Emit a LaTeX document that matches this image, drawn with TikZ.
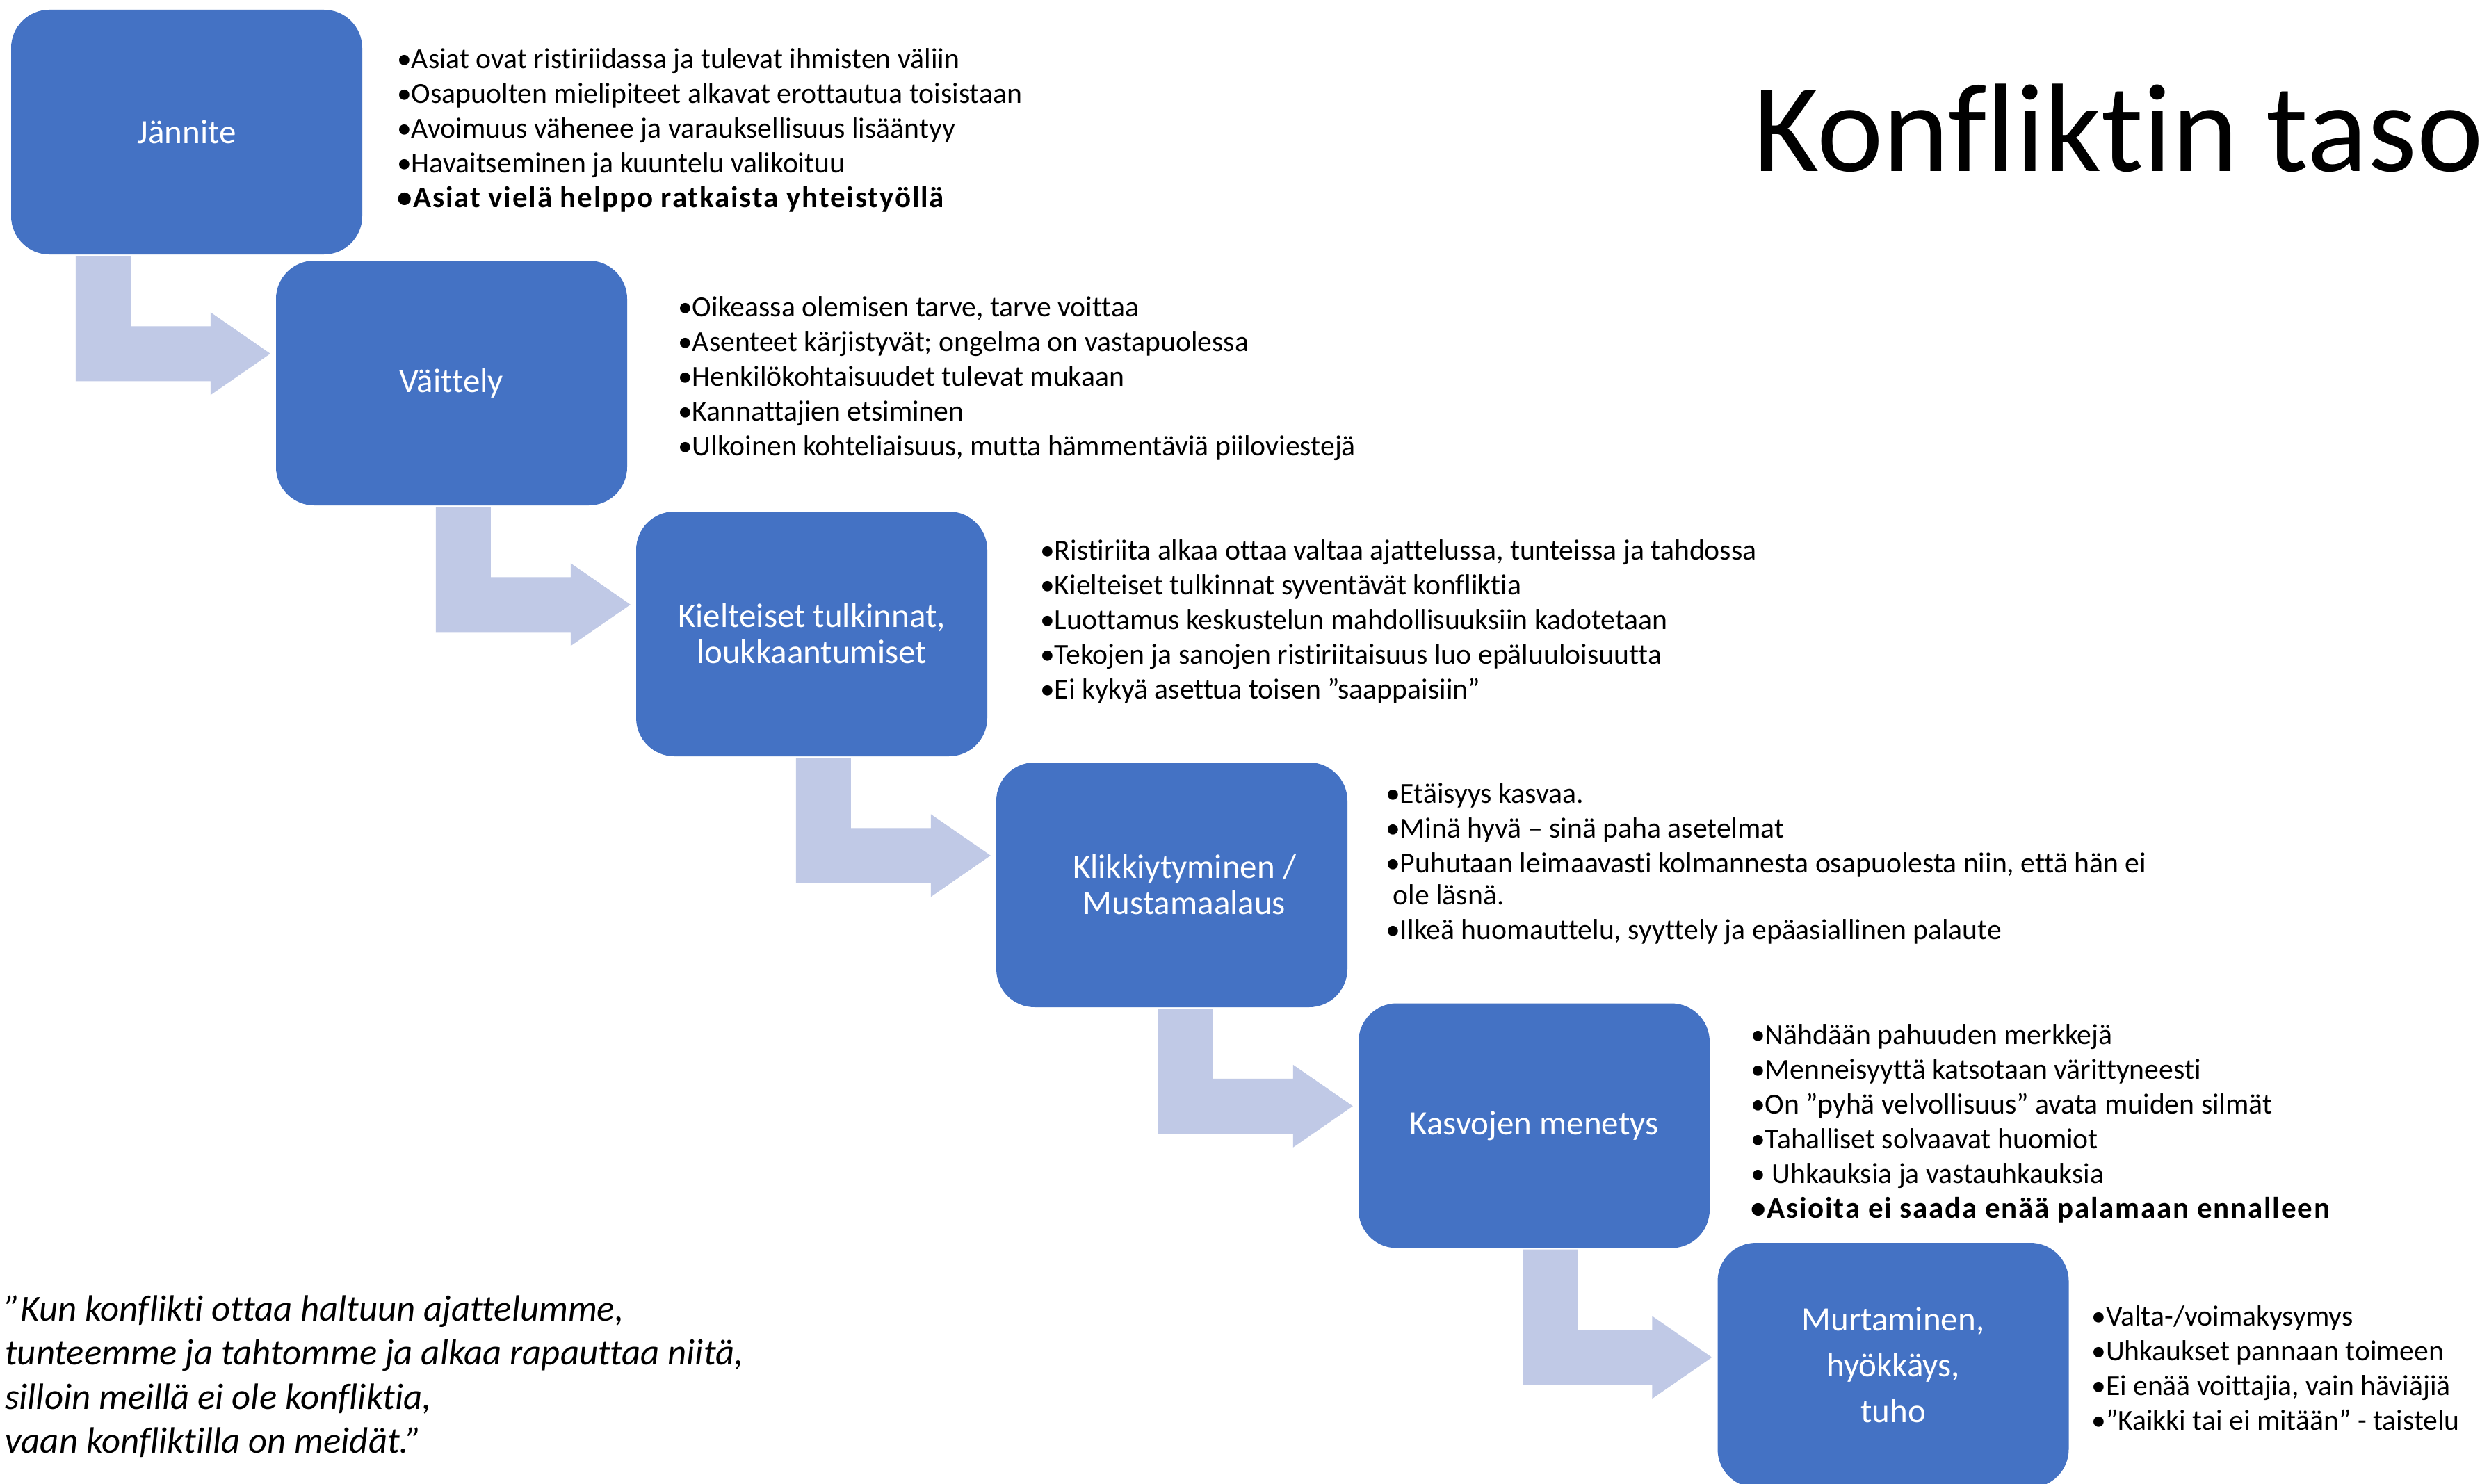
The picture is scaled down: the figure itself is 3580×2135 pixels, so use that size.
\documentclass[tikz,border=0pt]{standalone}
\usepackage{fontspec}
\setmainfont{Carlito}[Ligatures=NoCommon]
\usetikzlibrary{calc}
\definecolor{boxblue}{HTML}{4472C4}
\definecolor{arrblue}{RGB}{192,201,230}
\tikzset{
  stepbox/.style={fill=boxblue, rounded corners=55pt, minimum width=505pt, minimum height=352pt,
    inner sep=0pt, text=white, align=center, font=\fontsize{49}{52}\selectfont},
  bultext/.style={anchor=base west, inner sep=0pt, font=\fontsize{41.7}{50}\selectfont},
  quotetext/.style={anchor=base west, inner sep=0pt, font=\fontsize{52.8}{63}\selectfont\itshape},
  arrowshape/.style={fill=arrblue},
}
\newcommand\strongline{\fontsize{43}{50}\selectfont\bfseries\addfontfeature{LetterSpace=4.2}}
% #1 source box, #2 target box, #3 bar offset left of target, #4 tip depth below target top, #5 tip gap
\newcommand\bentarrow[5]{%
  \coordinate (T0) at (#2.north west);
  \coordinate (Q) at ($(T0)+(-#3,0)$);
  \coordinate (Top) at ($(Q |- #1.south)+(0,2)$);
  \fill[arrowshape] (Top) -- ++(79,0) -- ($(Q)+(79,#4-39.5)$) -- ($(T0)+(-#5-86,#4-39.5)$)
    -- ($(T0)+(-#5-86,#4-59.5)$) -- ($(T0)+(-#5,#4)$) -- ($(T0)+(-#5-86,#4+59.5)$)
    -- ($(T0)+(-#5-86,#4+39.5)$) -- ($(Q)+(0,#4+39.5)$) -- cycle;
}
\newcommand\bulletblock[4]{%
  \foreach \t [count=\i] in {#4} \node[bultext] (#1-\i) at (#2, {#3+50*(\i-1)}) {\t};
}
\begin{document}
\begin{tikzpicture}[x=1pt,y=-1pt]
\useasboundingbox (0,0) rectangle (3580,2135);
\clip (0,0) rectangle (3580,2135);
\fill[white] (0,0) rectangle (3580,2135);

% step boxes
\node[stepbox] (b1) at (268.5,190) {Jännite};
\node[stepbox] (b2) at (649.5,551) {Väittely};
\node[stepbox] (b3) at (1167.5,912) {Kielteiset tulkinnat,\\loukkaantumiset};
\node[stepbox] (b4) at (1685.5,1273) {\hspace*{36pt}Klikkiytyminen /\\\hspace*{36pt}Mustamaalaus};
\node[stepbox] (b5) at (2206.5,1619.5) {Kasvojen menetys};
\node[stepbox, font=\fontsize{49}{66}\selectfont] (b6) at (2723,1964) {Murtaminen,\\hyökkäys,\\tuho};

% bent arrows
\bentarrow{b1}{b2}{288}{134}{8}
\bentarrow{b2}{b3}{288}{134}{8}
\bentarrow{b3}{b4}{288}{134}{8}
\bentarrow{b4}{b5}{288}{148}{8}
\bentarrow{b5}{b6}{280}{165}{8}

% title
\node[anchor=base west, inner sep=0pt, font=\fontsize{181}{200}\selectfont] (title) at (2522,247) {Konfliktin taso};

% bullet texts
\bulletblock{t1}{571}{99}{%
  {•Asiat ovat ristiriidassa ja tulevat ihmisten väliin},%
  {•Osapuolten mielipiteet alkavat erottautua toisistaan},%
  {•Avoimuus vähenee ja varauksellisuus lisääntyy},%
  {•Havaitseminen ja kuuntelu valikoituu},%
  {\strongline •Asiat vielä helppo ratkaista yhteistyöllä}%
}
\bulletblock{t2}{975}{455}{%
  {•Oikeassa olemisen tarve, tarve voittaa},%
  {•Asenteet kärjistyvät; ongelma on vastapuolessa},%
  {•Henkilökohtaisuudet tulevat mukaan},%
  {•Kannattajien etsiminen},%
  {•Ulkoinen kohteliaisuus, mutta hämmentäviä piiloviestejä}%
}
\bulletblock{t3}{1496}{805}{%
  {•Ristiriita alkaa ottaa valtaa ajattelussa, tunteissa ja tahdossa},%
  {•Kielteiset tulkinnat syventävät konfliktia},%
  {•Luottamus keskustelun mahdollisuuksiin kadotetaan},%
  {•Tekojen ja sanojen ristiriitaisuus luo epäluuloisuutta},%
  {•Ei kykyä asettua toisen ”saappaisiin”}%
}
\node[bultext] (t4-1) at (1993,1155) {•Etäisyys kasvaa.};
\node[bultext] (t4-2) at (1993,1205) {•Minä hyvä – sinä paha asetelmat};
\node[bultext] (t4-3) at (1993,1255) {•Puhutaan leimaavasti kolmannesta osapuolesta niin, että hän ei};
\node[bultext] (t4-4) at (1993,1301) {\hspace*{0.25em}ole läsnä.};
\node[bultext] (t4-5) at (1993,1351) {•Ilkeä huomauttelu, syyttely ja epäasiallinen palaute};
\bulletblock{t5}{2518}{1502}{%
  {•Nähdään pahuuden merkkejä},%
  {•Menneisyyttä katsotaan värittyneesti},%
  {•On ”pyhä velvollisuus” avata muiden silmät},%
  {•Tahalliset solvaavat huomiot},%
  {• Uhkauksia ja vastauhkauksia},%
  {\strongline •Asioita ei saada enää palamaan ennalleen}%
}
\bulletblock{t6}{3008}{1907}{%
  {•Valta-/voimakysymys},%
  {•Uhkaukset pannaan toimeen},%
  {•Ei enää voittajia, vain häviäjiä},%
  {•”Kaikki tai ei mitään” - taistelu}%
}

% quote
\foreach \t [count=\i] in {%
  {”Kun konflikti ottaa haltuun ajattelumme,},%
  {tunteemme ja tahtomme ja alkaa rapauttaa niitä,},%
  {silloin meillä ei ole konfliktia,},%
  {vaan konfliktilla on meidät.”}%
} \node[quotetext] (quote-\i) at (7, {1900+63.5*(\i-1)}) {\t};
\end{tikzpicture}
\end{document}
